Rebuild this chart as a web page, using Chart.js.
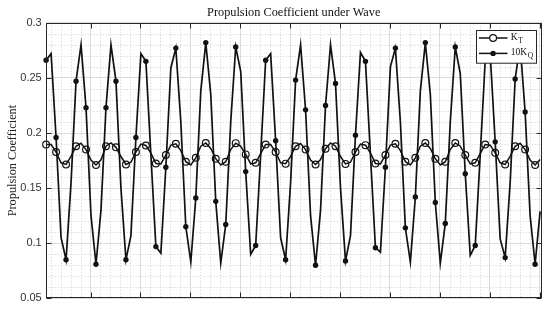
<!DOCTYPE html>
<html>
<head>
<meta charset="utf-8">
<script src="https://cdn.jsdelivr.net/npm/chart.js@4.4.0/dist/chart.umd.min.js"></script>
<style>
  html, body { margin: 0; padding: 0; background: #fff; }
</style>
</head>
<body>
<canvas id="myChart" width="550" height="309"></canvas>
<script>
// sample index along the record (one point every time step)
const samples = Array.from({ length: 100 }, (_, i) => i);

const kt = [
  0.1896, 0.1895, 0.1827, 0.1730, 0.1715, 0.1788, 0.1880, 0.1907, 0.1850, 0.1755,
  0.1710, 0.1757, 0.1880, 0.1910, 0.1870, 0.1787, 0.1715, 0.1735, 0.1827, 0.1900,
  0.1887, 0.1817, 0.1724, 0.1720, 0.1800, 0.1890, 0.1902, 0.1840, 0.1740, 0.1710,
  0.1775, 0.1880, 0.1910, 0.1860, 0.1767, 0.1710, 0.1740, 0.1850, 0.1908, 0.1880,
  0.1806, 0.1720, 0.1730, 0.1813, 0.1896, 0.1895, 0.1827, 0.1730, 0.1722, 0.1788,
  0.1880, 0.1905, 0.1850, 0.1755, 0.1715, 0.1760, 0.1857, 0.1910, 0.1880, 0.1787,
  0.1720, 0.1735, 0.1827, 0.1900, 0.1890, 0.1817, 0.1724, 0.1720, 0.1800, 0.1890,
  0.1902, 0.1840, 0.1740, 0.1710, 0.1775, 0.1880, 0.1910, 0.1860, 0.1767, 0.1710,
  0.1740, 0.1850, 0.1910, 0.1880, 0.1800, 0.1720, 0.1730, 0.1813, 0.1896, 0.1890,
  0.1820, 0.1730, 0.1715, 0.1788, 0.1880, 0.1907, 0.1850, 0.1755, 0.1710, 0.1760
];

const kq10 = [
  0.266, 0.272, 0.196, 0.105, 0.085, 0.155, 0.247, 0.280, 0.223, 0.125,
  0.081, 0.130, 0.223, 0.280, 0.247, 0.150, 0.085, 0.107, 0.196, 0.272,
  0.265, 0.180, 0.097, 0.091, 0.169, 0.259, 0.277, 0.210, 0.115, 0.083,
  0.141, 0.238, 0.282, 0.235, 0.138, 0.082, 0.117, 0.210, 0.278, 0.256,
  0.165, 0.090, 0.098, 0.180, 0.266, 0.272, 0.193, 0.105, 0.085, 0.155,
  0.248, 0.280, 0.221, 0.125, 0.080, 0.130, 0.225, 0.280, 0.245, 0.150,
  0.084, 0.107, 0.198, 0.273, 0.265, 0.180, 0.096, 0.092, 0.169, 0.260,
  0.277, 0.210, 0.114, 0.083, 0.142, 0.238, 0.282, 0.235, 0.137, 0.082,
  0.118, 0.210, 0.278, 0.254, 0.163, 0.089, 0.098, 0.180, 0.266, 0.272,
  0.192, 0.104, 0.087, 0.155, 0.249, 0.280, 0.219, 0.125, 0.081, 0.129
];

const yTicks = [0.05, 0.1, 0.15, 0.2, 0.25, 0.3];
const yTickLabels = ['0.05', '0.1', '0.15', '0.2', '0.25', '0.3'];
const xMajor = [8.9, 18.9, 28.9, 38.9, 48.9, 58.9, 68.9, 78.9, 88.9, 98.9];

const seriesNames = [{ base: 'K', sub: 'T' }, { base: '10K', sub: 'Q' }];

const INK = '#111';
const FRAME = '#262626';

// minor dotted grid, box and inward ticks (MATLAB look)
const matlabAxes = {
  id: 'matlabAxes',
  beforeDatasetsDraw(chart) {
    const { ctx, chartArea: a, scales: { x, y } } = chart;
    ctx.save();
    ctx.strokeStyle = '#cfcfcf';
    ctx.lineWidth = 1;
    ctx.setLineDash([1, 2]);
    ctx.beginPath();
    for (let k = 0; k < 50; k++) {
      if (k % 5 === 4) continue;
      const v = 0.9 + 2 * k;
      if (v <= x.min || v >= x.max) continue;
      const px = Math.round(x.getPixelForValue(v)) + 0.5;
      ctx.moveTo(px, a.top);
      ctx.lineTo(px, a.bottom);
    }
    for (let k = 1; k < 25; k++) {
      if (k % 5 === 0) continue;
      const py = Math.round(y.getPixelForValue(0.05 + 0.01 * k)) + 0.5;
      ctx.moveTo(a.left, py);
      ctx.lineTo(a.right, py);
    }
    ctx.stroke();
    ctx.restore();
  },
  afterDatasetsDraw(chart) {
    const { ctx, chartArea: a, scales: { x, y } } = chart;
    ctx.save();
    ctx.strokeStyle = FRAME;
    ctx.lineWidth = 1;
    const l = Math.round(a.left) + 0.5, r = Math.round(a.right) - 0.5;
    const t = Math.round(a.top) + 0.5, b = Math.round(a.bottom) - 0.5;
    ctx.strokeRect(l, t, r - l, b - t);
    ctx.beginPath();
    xMajor.forEach(v => {
      const px = Math.round(x.getPixelForValue(v)) + 0.5;
      ctx.moveTo(px, t); ctx.lineTo(px, t + 5);
      ctx.moveTo(px, b); ctx.lineTo(px, b - 5);
    });
    yTicks.forEach(v => {
      const py = Math.round(y.getPixelForValue(v)) + 0.5;
      ctx.moveTo(l, py); ctx.lineTo(l + 5, py);
      ctx.moveTo(r, py); ctx.lineTo(r - 5, py);
    });
    ctx.stroke();
    ctx.restore();
  },
  afterDraw(chart) {
    // legend box in the upper right corner, over the lines
    const { ctx, chartArea: a } = chart;
    const bw = 60, bh = 32.7;
    const bx = Math.round(a.right - 6 - bw) + 0.5, by = Math.round(a.top + 7) + 0.5;
    ctx.save();
    ctx.fillStyle = '#fff';
    ctx.fillRect(bx, by, bw, bh);
    ctx.strokeStyle = FRAME;
    ctx.lineWidth = 1;
    ctx.strokeRect(bx, by, bw, bh);
    chart.data.datasets.forEach((ds, i) => {
      const ry = by + 7.5 + i * 15.4;
      ctx.strokeStyle = INK;
      ctx.lineWidth = 1.5;
      ctx.beginPath();
      ctx.moveTo(bx + 2.5, ry);
      ctx.lineTo(bx + 31, ry);
      ctx.stroke();
      ctx.beginPath();
      if (i === 0) {
        ctx.lineWidth = 1.2;
        ctx.arc(bx + 16.6, ry, 3.4, 0, Math.PI * 2);
        ctx.fillStyle = '#fff';
        ctx.fill();
        ctx.stroke();
      } else {
        ctx.arc(bx + 16.6, ry, 2.7, 0, Math.PI * 2);
        ctx.fillStyle = INK;
        ctx.fill();
      }
      const n = seriesNames[i];
      ctx.fillStyle = '#111';
      ctx.textBaseline = 'middle';
      ctx.font = '9.5px "Liberation Serif"';
      ctx.fillText(n.base, bx + 34.3, ry - 1);
      const w = ctx.measureText(n.base).width;
      ctx.font = '7.5px "Liberation Serif"';
      ctx.fillText(n.sub, bx + 34.3 + w + 0.5, ry + 3);
    });
    ctx.restore();
  }
};

const toPoints = vals => vals.map((v, i) => ({ x: samples[i], y: v }));
const everyOther = r => ctx => (ctx.dataIndex % 2 === 0 ? r : 0);

new Chart(document.getElementById('myChart'), {
  type: 'line',
  data: {
    datasets: [
      {
        label: 'K_T',
        data: toPoints(kt),
        borderColor: INK,
        borderWidth: 1.5,
        pointRadius: everyOther(3.4),
        pointBorderColor: INK,
        pointBorderWidth: 1.2,
        pointBackgroundColor: 'rgba(0,0,0,0)',
        tension: 0,
        clip: false
      },
      {
        label: '10K_Q',
        data: toPoints(kq10),
        borderColor: INK,
        borderWidth: 1.7,
        pointRadius: everyOther(2.7),
        pointBorderWidth: 0,
        pointBackgroundColor: INK,
        tension: 0,
        clip: false
      }
    ]
  },
  options: {
    responsive: false,
    animation: false,
    events: [],
    layout: { padding: { left: 3, right: 8.3, top: 0, bottom: 10 } },
    plugins: {
      legend: { display: false },
      tooltip: { enabled: false },
      title: {
        display: true,
        text: 'Propulsion Coefficient under Wave',
        fullSize: false,
        color: '#111',
        font: { family: '"Liberation Serif"', size: 12.3, weight: 'normal' },
        padding: { top: 5, bottom: 3 }
      }
    },
    scales: {
      x: {
        type: 'linear',
        min: -0.08,
        max: 99.32,
        afterBuildTicks: s => { s.ticks = xMajor.map(v => ({ value: v })); },
        afterFit: s => { s.height = 0; },
        ticks: { display: false },
        grid: { color: '#dcdcdc', lineWidth: 1, drawTicks: false },
        border: { display: false }
      },
      y: {
        min: 0.05,
        max: 0.3,
        afterBuildTicks: s => { s.ticks = yTicks.map(v => ({ value: v })); },
        afterFit: s => { s.width = 42.7; },
        ticks: {
          padding: 4,
          color: '#333',
          font: { family: '"Liberation Sans"', size: 11 },
          callback: (v, i) => yTickLabels[i]
        },
        grid: { color: '#dcdcdc', lineWidth: 1, drawTicks: false },
        border: { display: false },
        title: {
          display: true,
          text: 'Propulsion Coefficient',
          color: '#222',
          font: { family: '"Liberation Serif"', size: 12.3 },
          padding: { top: 2.3, bottom: 0 }
        }
      }
    }
  },
  plugins: [matlabAxes]
});
</script>
</body>
</html>
